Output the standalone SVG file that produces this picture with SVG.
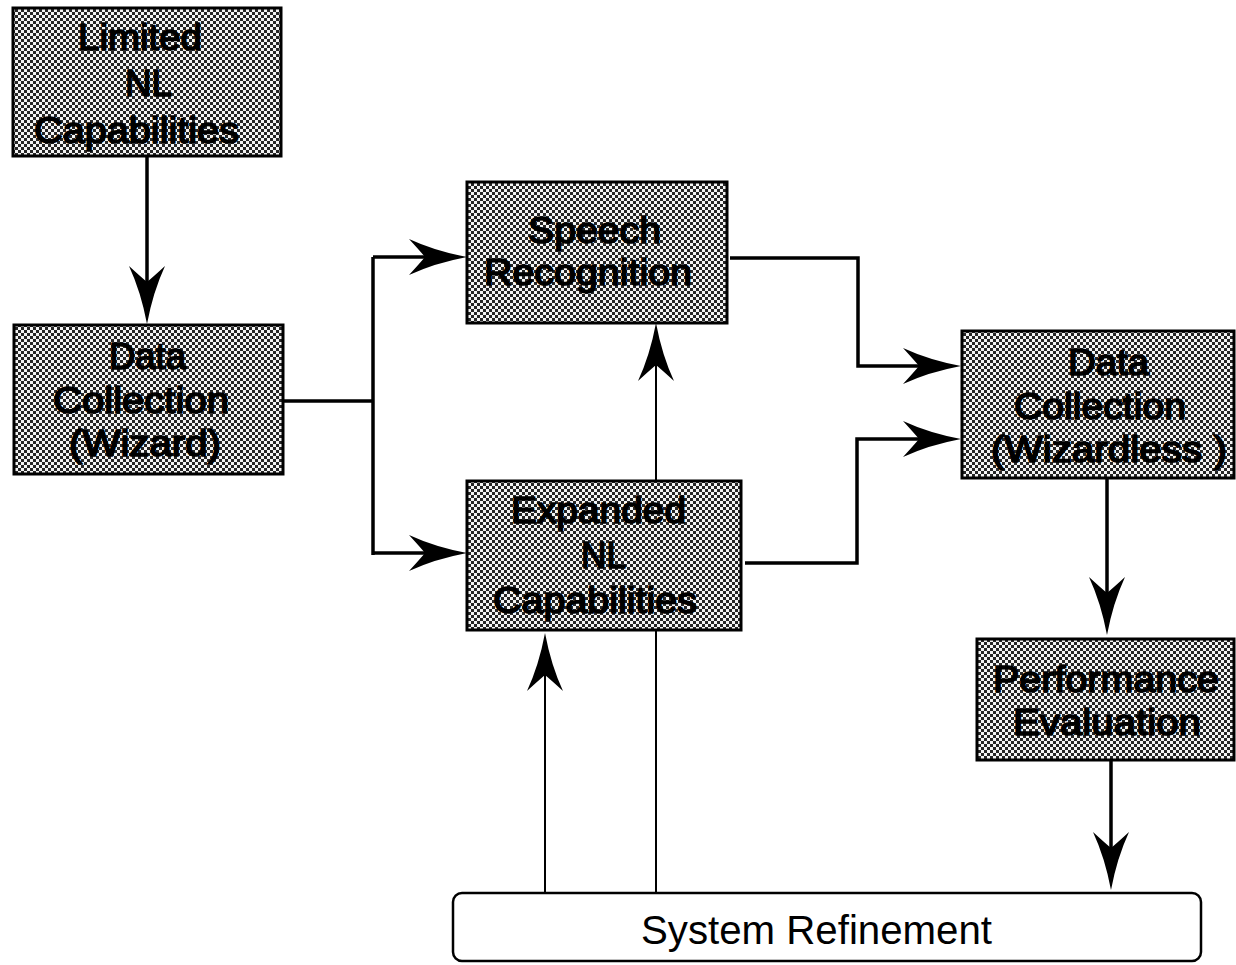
<svg xmlns="http://www.w3.org/2000/svg" width="1236" height="965" viewBox="0 0 1236 965">
<style>
.box{fill:url(#dots);stroke:#000;stroke-width:3}
.t{font-family:"Liberation Sans",Arial,sans-serif;font-size:36px;fill:#000;stroke:#000;stroke-width:1.6;stroke-linejoin:round}
.c{fill:none;stroke:#000;stroke-width:3.5}
.thin{fill:none;stroke:#000;stroke-width:2}
</style>
<defs>
<pattern id="dots" x="0" y="0" width="6" height="6" patternUnits="userSpaceOnUse">
<rect width="6" height="6" fill="#f4f4f4"/>
<rect width="3" height="3" fill="#262626"/>
<rect x="3" y="3" width="3" height="3" fill="#262626"/>
</pattern>
<marker id="arr" viewBox="-60 -21 64 42" refX="-42" refY="0" markerWidth="64" markerHeight="42" markerUnits="userSpaceOnUse" orient="auto">
<path d="M0,0 Q-32,-6 -58,-18 Q-47,-6 -42,0 Q-47,6 -58,18 Q-32,6 0,0Z" fill="#000"/>
</marker>
</defs>
<rect width="1236" height="965" fill="#fff"/>

<g id="connectors">
<path class="c" d="M147,156 V282" marker-end="url(#arr)"/>
<path class="c" d="M283,401 H373"/>
<path class="c" d="M373,257 V555"/>
<path class="c" d="M373,257 H425" marker-end="url(#arr)"/>
<path class="c" d="M373,553 H425" marker-end="url(#arr)"/>
<path class="c" d="M730,258 H858 V366 H919" marker-end="url(#arr)"/>
<path class="c" d="M745,563 H857 V439 H919" marker-end="url(#arr)"/>
<path class="c" d="M1107,478 V593" marker-end="url(#arr)"/>
<path class="c" d="M1111,760 V848" marker-end="url(#arr)"/>
<path class="thin" d="M545,893 V675" marker-end="url(#arr)"/>
<path class="thin" d="M656,893 V630"/>
<path class="thin" d="M656,481 V365" marker-end="url(#arr)"/>
</g>

<g id="limited-nl">
<rect class="box" x="13" y="8" width="268" height="148"/>
<text class="t" x="78" y="50" textLength="124" lengthAdjust="spacingAndGlyphs">Limited</text>
<text class="t" x="125" y="96" textLength="47" lengthAdjust="spacingAndGlyphs">NL</text>
<text class="t" x="34" y="143" textLength="205" lengthAdjust="spacingAndGlyphs">Capabilities</text>
</g>

<g id="data-collection-wizard">
<rect class="box" x="14" y="325" width="269" height="149"/>
<text class="t" x="109" y="369" textLength="77" lengthAdjust="spacingAndGlyphs">Data</text>
<text class="t" x="53" y="413" textLength="176" lengthAdjust="spacingAndGlyphs">Collection</text>
<text class="t" x="69" y="456" textLength="152" lengthAdjust="spacingAndGlyphs">(Wizard)</text>
</g>

<g id="speech-recognition">
<rect class="box" x="467" y="182" width="260" height="141"/>
<text class="t" x="528" y="243" textLength="133" lengthAdjust="spacingAndGlyphs">Speech</text>
<text class="t" x="484" y="285" textLength="208" lengthAdjust="spacingAndGlyphs">Recognition</text>
</g>

<g id="expanded-nl">
<rect class="box" x="467" y="481" width="274" height="149"/>
<text class="t" x="511" y="523" textLength="175" lengthAdjust="spacingAndGlyphs">Expanded</text>
<text class="t" x="581" y="568" textLength="45" lengthAdjust="spacingAndGlyphs">NL</text>
<text class="t" x="493" y="613" textLength="204" lengthAdjust="spacingAndGlyphs">Capabilities</text>
</g>

<g id="data-collection-wizardless">
<rect class="box" x="962" y="331" width="272" height="147"/>
<text class="t" x="1068" y="375" textLength="81" lengthAdjust="spacingAndGlyphs">Data</text>
<text class="t" x="1014" y="419" textLength="172" lengthAdjust="spacingAndGlyphs">Collection</text>
<text class="t" x="991" y="462" textLength="236" lengthAdjust="spacingAndGlyphs">(Wizardless )</text>
</g>

<g id="performance-evaluation">
<rect class="box" x="977" y="639" width="257" height="121"/>
<text class="t" x="993" y="692" textLength="226" lengthAdjust="spacingAndGlyphs">Performance</text>
<text class="t" x="1013" y="735" textLength="188" lengthAdjust="spacingAndGlyphs">Evaluation</text>
</g>

<g id="system-refinement">
<rect x="453" y="893" width="748" height="68" rx="9" fill="#fff" stroke="#000" stroke-width="2.5"/>
<text x="641" y="944" font-family="Liberation Sans,Arial,sans-serif" font-size="40" fill="#000" textLength="351" lengthAdjust="spacingAndGlyphs">System Refinement</text>
</g>
</svg>
